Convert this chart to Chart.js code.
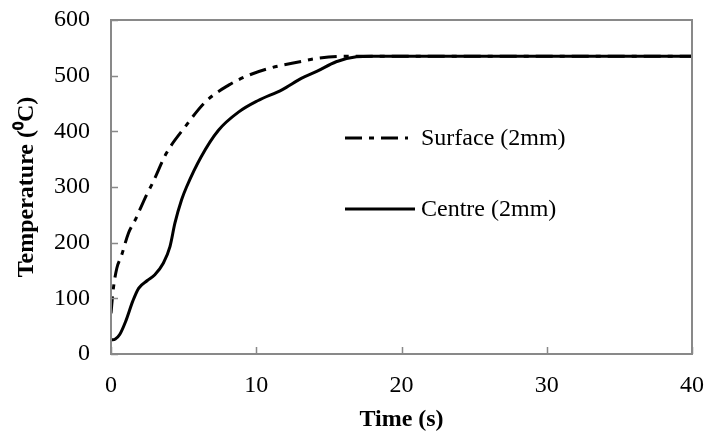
<!DOCTYPE html>
<html>
<head>
<meta charset="utf-8">
<script src="https://cdn.jsdelivr.net/npm/chart.js@4.4.1/dist/chart.umd.min.js"></script>
<style>
  html, body { margin: 0; padding: 0; background: #fff; }
  #wrap { width: 707px; height: 438px; }
</style>
</head>
<body>
<div id="wrap"><canvas id="myChart" width="707" height="438"></canvas></div>
<script>
// values
const surfaceTime = [0, 0.15, 0.4, 0.7, 1.2, 1.65, 2.45, 2.9, 3.8, 5.1, 6.5, 8.1, 9.5, 11, 13, 14.2, 16.2, 18, 25, 40];
const surfaceTemp = [73, 115, 154, 175, 217, 240, 286, 309, 360, 408, 453, 483, 501, 514, 525, 531, 535, 535, 535, 535];

const centreTime = [0, 0.3, 0.6, 1.0, 1.5, 1.9, 2.5, 3.0, 3.6, 4.06, 4.4, 4.86, 5.2, 6.2, 7.4, 8.8, 10.1, 11.8, 13.1, 14.2, 15.5, 16.9, 18, 25, 40];
const centreTemp = [25, 27, 35, 58, 95, 118, 132, 142, 163, 193, 235, 277, 300, 354, 402, 435, 455, 475, 495, 508, 525, 534, 535, 535, 535];

const seriesLabels = ['Surface (2mm)', 'Centre (2mm)'];
const xTicks = [0, 10, 20, 30, 40];
const yTicks = [0, 100, 200, 300, 400, 500, 600];

const FONT = "'Liberation Serif', 'Times New Roman', serif";
const AXIS_GREY = '#898989';

function toPoints(xs, ys) {
    return xs.map((x, i) => ({ x: x, y: ys[i] }));
}

// box around the plot + inward tick marks (Excel style)
const frameTicks = {
    id: 'frameTicks',
    afterDatasetsDraw(chart) {
        const { ctx, chartArea: a, scales } = chart;
        ctx.save();
        ctx.strokeStyle = AXIS_GREY;
        ctx.lineWidth = 2;
        ctx.strokeRect(a.left, a.top, a.right - a.left, a.bottom - a.top);
        ctx.beginPath();
        xTicks.forEach(v => {
            const px = Math.round(scales.x.getPixelForValue(v)) + 0.5;
            ctx.moveTo(px, a.bottom);
            ctx.lineTo(px, a.bottom - 7);
        });
        yTicks.forEach(v => {
            const py = Math.round(scales.y.getPixelForValue(v)) + 0.5;
            ctx.moveTo(a.left, py);
            ctx.lineTo(a.left + 7, py);
        });
        ctx.lineWidth = 1.5;
        ctx.stroke();
        ctx.restore();
    }
};

// legend sitting inside the plot
const insideLegend = {
    id: 'insideLegend',
    afterDraw(chart) {
        const ctx = chart.ctx;
        const rows = [
            { y: 138, x0: 345, x1: 408 },
            { y: 209, x0: 345, x1: 415 }
        ];
        ctx.save();
        chart.data.datasets.forEach((ds, i) => {
            const r = rows[i];
            ctx.strokeStyle = ds.borderColor;
            ctx.lineWidth = ds.borderWidth;
            ctx.setLineDash(ds.borderDash || []);
            ctx.beginPath();
            ctx.moveTo(r.x0, r.y);
            ctx.lineTo(r.x1, r.y);
            ctx.stroke();
            ctx.setLineDash([]);
            ctx.fillStyle = '#000';
            ctx.font = '24px ' + FONT;
            ctx.textBaseline = 'middle';
            ctx.fillText(ds.label, 421, r.y + 1);
        });
        ctx.restore();
    }
};

const ctx = document.getElementById('myChart');
const myChart = new Chart(ctx, {
    type: 'line',
    data: {
        datasets: [{
            label: seriesLabels[0],
            data: toPoints(surfaceTime, surfaceTemp),
            borderColor: '#000',
            borderWidth: 3,
            borderDash: [17, 7, 5, 7],
            pointRadius: 0,
            cubicInterpolationMode: 'monotone',
            fill: false
        }, {
            label: seriesLabels[1],
            data: toPoints(centreTime, centreTemp),
            borderColor: '#000',
            borderWidth: 3,
            pointRadius: 0,
            cubicInterpolationMode: 'monotone',
            fill: false
        }]
    },
    options: {
        responsive: false,
        animation: false,
        layout: { padding: { top: 20, right: 15, left: 0, bottom: 0 } },
        plugins: {
            legend: { display: false },
            tooltip: { enabled: false }
        },
        scales: {
            x: {
                type: 'linear',
                min: 0, max: 40,
                afterBuildTicks(scale) { scale.ticks = xTicks.map(v => ({ value: v })); },
                afterFit(scale) {
                    scale.height = 84;
                    scale.paddingLeft = 0;
                    scale.paddingRight = 0;
                },
                grid: { display: false, drawTicks: false },
                border: { display: false },
                ticks: {
                    color: '#000',
                    padding: 17,
                    maxRotation: 0,
                    font: { family: FONT, size: 24 }
                },
                title: {
                    display: true,
                    text: 'Time (s)',
                    color: '#000',
                    padding: { top: 0, bottom: 4 },
                    font: { family: FONT, size: 24, weight: 'bold' }
                }
            },
            y: {
                type: 'linear',
                min: 0, max: 600,
                afterBuildTicks(scale) { scale.ticks = yTicks.map(v => ({ value: v })); },
                afterFit(scale) {
                    scale.width = 111;
                    scale.paddingTop = 0;
                    scale.paddingBottom = 0;
                },
                grid: { display: false, drawTicks: false },
                border: { display: false },
                ticks: {
                    color: '#000',
                    padding: 21,
                    font: { family: FONT, size: 24 }
                },
                title: {
                    display: true,
                    text: 'Temperature (\u2070C)',
                    color: '#000',
                    padding: { top: 12, bottom: 0 },
                    font: { family: FONT, size: 24, weight: 'bold' }
                }
            }
        }
    },
    plugins: [frameTicks, insideLegend]
});
</script>
</body>
</html>
